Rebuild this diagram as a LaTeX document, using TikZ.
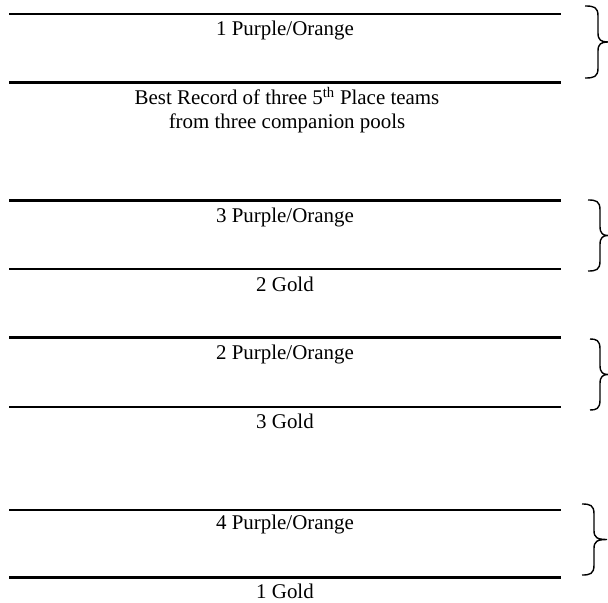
\documentclass[tikz,border=0pt]{standalone}
\usepackage{fontspec}
\setmainfont{Liberation Serif}
\newcommand{\mybrace}[5]{% x0, stem x, ytop, ybot, tip x
  \pgfmathsetmacro{\ym}{(#3+#4)/2}
  \draw[brc] (#1,#3) .. controls (#2-4,#3) and (#2,#3+1) .. (#2,#3+10)
    -- (#2,\ym-9) .. controls (#2,\ym-2) and (#2+3,\ym) .. (#5,\ym)
    .. controls (#2+3,\ym) and (#2,\ym+2) .. (#2,\ym+9)
    -- (#2,#4-10) .. controls (#2,#4-1) and (#2-4,#4) .. (#1,#4);}
\begin{document}
\begin{tikzpicture}[x=1bp,y=-1bp,
  rule/.style={line width=2.3bp},
  lbl/.style={anchor=base,inner sep=0pt,font=\fontsize{21}{24}\selectfont},
  brc/.style={line width=1.4bp}]
\useasboundingbox (0,0) rectangle (608,603);
% rules
\coordinate (a1) at (9,14);   \coordinate (b1) at (561,14);
\coordinate (a2) at (9,82.5); \coordinate (b2) at (561,82.5);
\coordinate (a3) at (9,200.5);\coordinate (b3) at (561,200.5);
\coordinate (a4) at (9,269);  \coordinate (b4) at (561,269);
\coordinate (a5) at (9,337.5);\coordinate (b5) at (561,337.5);
\coordinate (a6) at (9,407);  \coordinate (b6) at (561,407);
\coordinate (a7) at (9,510);  \coordinate (b7) at (561,510);
\coordinate (a8) at (9,577.5);\coordinate (b8) at (561,577.5);
\foreach \i in {1,...,8} \draw[rule] (a\i) -- (b\i);
% labels
\node[lbl] (t1) at (285,35.5) {1 Purple/Orange};
\node[lbl] (t2) at (287,105) {Best Record of three 5\textsuperscript{th} Place teams};
\node[lbl] (t3) at (287,128.5) {from three companion pools};
\node[lbl] (t4) at (285,222) {3 Purple/Orange};
\node[lbl] (t5) at (285,291) {2 Gold};
\node[lbl] (t6) at (285,359) {2 Purple/Orange};
\node[lbl] (t7) at (285,428) {3 Gold};
\node[lbl] (t8) at (285,529) {4 Purple/Orange};
\node[lbl] (t9) at (285,598) {1 Gold};
% braces
\mybrace{585}{598}{6}{78}{608}
\mybrace{588}{600}{200}{271}{608}
\mybrace{590}{600}{339}{410}{608}
\mybrace{582}{594}{504}{575}{607}
\end{tikzpicture}
\end{document}
